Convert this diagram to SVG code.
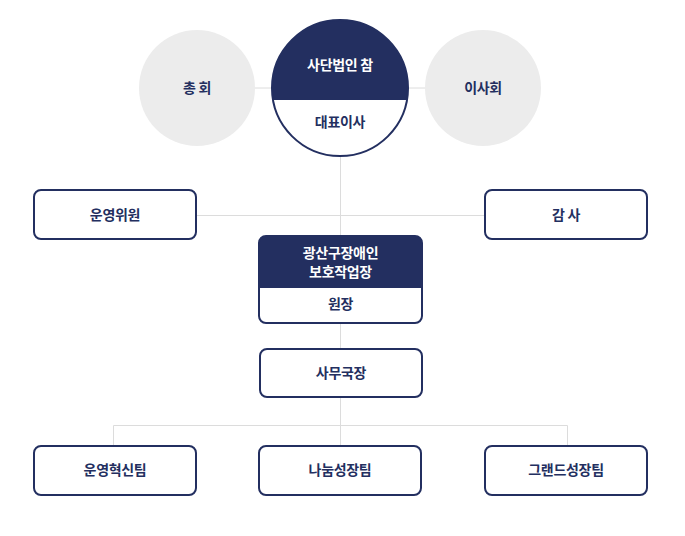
<svg xmlns="http://www.w3.org/2000/svg" width="685" height="536" viewBox="0 0 685 536">
<defs>
<clipPath id="cc"><circle cx="340" cy="88" r="68"/></clipPath>
<clipPath id="bc"><rect x="259" y="236" width="163" height="87" rx="7"/></clipPath>
</defs>
<style>
text{font-family:"Noto Sans CJK KR","Noto Sans",sans-serif;font-size:14px;font-weight:700;text-anchor:middle;dominant-baseline:central;fill:#232f60;letter-spacing:-0.3px}
.w{fill:#fff}
.box{fill:#fff;stroke:#232f60;stroke-width:2}
.gray{fill:#ececec}
.ln{stroke:#dcdcdc;stroke-width:1;fill:none}
</style>
<rect width="685" height="536" fill="#fff"/>
<g id="connectors">
<line class="ln" x1="255" y1="88" x2="425" y2="88"/>
<line class="ln" x1="340.5" y1="150" x2="340.5" y2="446"/>
<line class="ln" x1="196" y1="215.5" x2="485" y2="215.5"/>
<polyline class="ln" points="113.5,446 113.5,425.5 567.5,425.5 567.5,446"/>
</g>
<g id="general">
<circle class="gray" cx="197" cy="88" r="58"/>
<text x="197" y="87">총 회</text>
</g>
<g id="board">
<circle class="gray" cx="483" cy="88" r="58"/>
<text x="483" y="87">이사회</text>
</g>
<g id="corp">
<circle cx="340" cy="88" r="68" fill="#fff"/>
<rect x="270" y="18" width="140" height="82" fill="#232f60" clip-path="url(#cc)"/>
<circle cx="340" cy="88" r="68" fill="none" stroke="#232f60" stroke-width="2"/>
<text class="w" x="340" y="64">사단법인 참</text>
<text x="340" y="121">대표이사</text>
</g>
<g id="committee">
<rect class="box" x="34" y="190" width="162" height="49" rx="7"/>
<text x="115" y="214">운영위원</text>
</g>
<g id="audit">
<rect class="box" x="485" y="190" width="162" height="49" rx="7"/>
<text x="566" y="214">감 사</text>
</g>
<g id="workshop">
<rect x="259" y="236" width="163" height="87" rx="7" fill="#fff"/>
<rect x="259" y="236" width="163" height="52" fill="#232f60" clip-path="url(#bc)"/>
<rect x="259" y="236" width="163" height="87" rx="7" fill="none" stroke="#232f60" stroke-width="2"/>
<text class="w" x="340.5" y="252">광산구장애인</text>
<text class="w" x="340.5" y="271">보호작업장</text>
<text x="340.5" y="303">원장</text>
</g>
<g id="secretary">
<rect class="box" x="260" y="349" width="162" height="48" rx="7"/>
<text x="341" y="372">사무국장</text>
</g>
<g id="team1">
<rect class="box" x="34" y="446" width="162" height="49" rx="7"/>
<text x="115" y="469">운영혁신팀</text>
</g>
<g id="team2">
<rect class="box" x="259" y="446" width="162" height="49" rx="7"/>
<text x="340" y="469">나눔성장팀</text>
</g>
<g id="team3">
<rect class="box" x="485" y="446" width="162" height="49" rx="7"/>
<text x="566" y="469">그랜드성장팀</text>
</g>
</svg>
